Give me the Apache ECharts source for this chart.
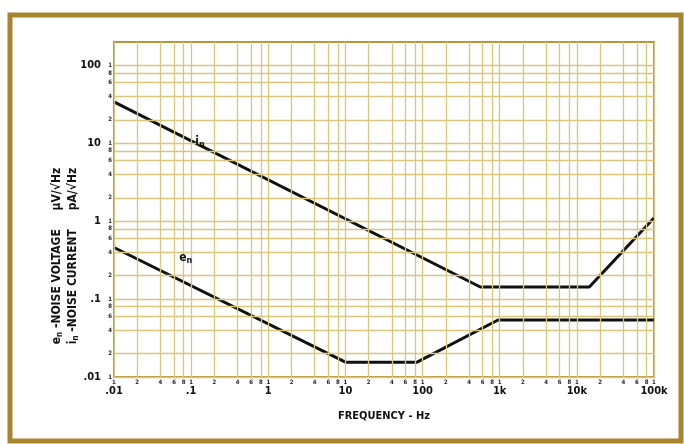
<!DOCTYPE html>
<html>
<head>
<meta charset="utf-8">
<script src="https://cdn.jsdelivr.net/npm/echarts@6/dist/echarts.min.js"></script>
<style>
  html, body { margin: 0; padding: 0; background: #fff; }
  #noise_chart { width: 684px; height: 444px; }
</style>
</head>
<body>
<div id="noise_chart"></div>
<script>
// curves (log-log)
const freqIn = [0.01, 560, 14500, 100000];
const noiseIn = [34, 0.143, 0.143, 1.1];
const freqEn = [0.01, 10, 85, 950, 100000];
const noiseEn = [0.46, 0.0155, 0.0155, 0.054, 0.054];

// tick labels
const xTickValues = [0.01, 0.1, 1, 10, 100, 1000, 10000, 100000];
const xTickLabels = ['.01', '.1', '1', '10', '100', '1k', '10k', '100k'];
const yTickValues = [0.01, 0.1, 1, 10, 100];
const yTickLabels = ['.01', '.1', '1', '10', '100'];
const minorSteps = [1, 2, 4, 6, 8];

const font = '"DejaVu Sans Condensed", "Liberation Sans", sans-serif';
const gridColor = '#d9c57c';

function pickLabel(values, labels, v) {
    for (let i = 0; i < values.length; i++) {
        if (Math.abs(Math.log10(v) - Math.log10(values[i])) < 1e-6) return labels[i];
    }
    return '';
}

// paper grid lines, with the little 1 2 4 6 8 figures at the axis
function gridLines(decades, dim, lastDecadeOnly1) {
    let lines = [];
    decades.forEach(function (d, i) {
        let steps = (lastDecadeOnly1 && i === decades.length - 1) ? [1] : minorSteps;
        steps.forEach(function (s) {
            let item = {};
            item[dim] = d * s;
            item.label = { formatter: String(s) };
            lines.push(item);
        });
    });
    return lines;
}

const myChart = echarts.init(document.getElementById('noise_chart'), null, { renderer: 'canvas' });
const option = {
    backgroundColor: '#fff',
    animation: false,
    textStyle: { fontFamily: font },
    grid: {
        left: 114, right: 30, top: 42, bottom: 67,
        show: true, borderColor: '#b8963a', borderWidth: 2, backgroundColor: 'transparent'
    },
    xAxis: {
        type: 'log', min: 0.01, max: 100000,
        name: 'FREQUENCY - Hz', nameLocation: 'middle', nameGap: 34,
        nameTextStyle: { fontFamily: font, fontWeight: 'bold', fontSize: 11, color: '#111' },
        axisLine: { show: false },
        axisTick: { show: false },
        splitLine: { show: false },
        axisLabel: {
            margin: 9, fontSize: 11, fontWeight: 'bold', color: '#111', fontFamily: font,
            formatter: function (v) { return pickLabel(xTickValues, xTickLabels, v); }
        }
    },
    yAxis: {
        type: 'log', min: 0.01, max: 200,
        axisLine: { show: false },
        axisTick: { show: false },
        splitLine: { show: false },
        axisLabel: {
            margin: 13, fontSize: 11, fontWeight: 'bold', color: '#111', fontFamily: font,
            formatter: function (v) { return pickLabel(yTickValues, yTickLabels, v); }
        }
    },
    graphic: [
        {
            type: 'rect', z: 100, silent: true,
            shape: { x: 10, y: 15, width: 671, height: 426 },
            style: { fill: 'none', stroke: '#a8842c', lineWidth: 5 }
        },
        {
            type: 'text', z: 100, x: 57, y: 256, rotation: Math.PI / 2,
            style: {
                text: '{b|e}{s|n}{b| -NOISE VOLTAGE     μV/√Hz}',
                align: 'center', verticalAlign: 'middle',
                rich: {
                    b: { fontFamily: font, fontWeight: 'bold', fontSize: 12, fill: '#111' },
                    s: { fontFamily: font, fontWeight: 'bold', fontSize: 8, fill: '#111', padding: [6, 0, 0, 0] }
                }
            }
        },
        {
            type: 'text', z: 100, x: 73, y: 256, rotation: Math.PI / 2,
            style: {
                text: '{b|i}{s|n}{b| -NOISE CURRENT     pA/√Hz}',
                align: 'center', verticalAlign: 'middle',
                rich: {
                    b: { fontFamily: font, fontWeight: 'bold', fontSize: 12, fill: '#111' },
                    s: { fontFamily: font, fontWeight: 'bold', fontSize: 8, fill: '#111', padding: [6, 0, 0, 0] }
                }
            }
        }
    ],
    series: [
        {
            // grid paper only
            type: 'line', z: 1, data: [], silent: true,
            markLine: {
                silent: true, symbol: ['none', 'none'], animation: false,
                lineStyle: { type: 'solid', color: gridColor, width: 1.3 },
                label: {
                    show: true, position: 'start', distance: 2,
                    fontSize: 6, fontWeight: 'bold', color: '#222', fontFamily: font
                },
                emphasis: { disabled: true },
                data: gridLines([0.01, 0.1, 1, 10, 100, 1000, 10000, 100000], 'xAxis', true)
                    .concat(gridLines([0.01, 0.1, 1, 10, 100], 'yAxis', true))
            }
        },
        {
            name: 'in', type: 'line', z: 3, symbol: 'none',
            lineStyle: { color: '#111', width: 3 },
            data: freqIn.map(function (f, i) { return [f, noiseIn[i]]; }),
            markPoint: {
                symbol: 'circle', symbolSize: 0,
                label: {
                    show: true, formatter: '{b|i}{s|n}',
                    rich: {
                        b: { fontFamily: font, fontWeight: 'bold', fontSize: 12, color: '#111' },
                        s: { fontFamily: font, fontWeight: 'bold', fontSize: 9, color: '#111', padding: [6, 0, 0, 0] }
                    }
                },
                data: [{ coord: [0.13, 10.5] }]
            }
        },
        {
            name: 'en', type: 'line', z: 3, symbol: 'none',
            lineStyle: { color: '#111', width: 3 },
            data: freqEn.map(function (f, i) { return [f, noiseEn[i]]; }),
            markPoint: {
                symbol: 'circle', symbolSize: 0,
                label: {
                    show: true, formatter: '{b|e}{s|n}',
                    rich: {
                        b: { fontFamily: font, fontWeight: 'bold', fontSize: 12, color: '#111' },
                        s: { fontFamily: font, fontWeight: 'bold', fontSize: 9, color: '#111', padding: [6, 0, 0, 0] }
                    }
                },
                data: [{ coord: [0.085, 0.34] }]
            }
        }
    ]
};
myChart.setOption(option);
window.addEventListener("resize", function () {
    myChart.resize();
});
</script>
</body>
</html>
